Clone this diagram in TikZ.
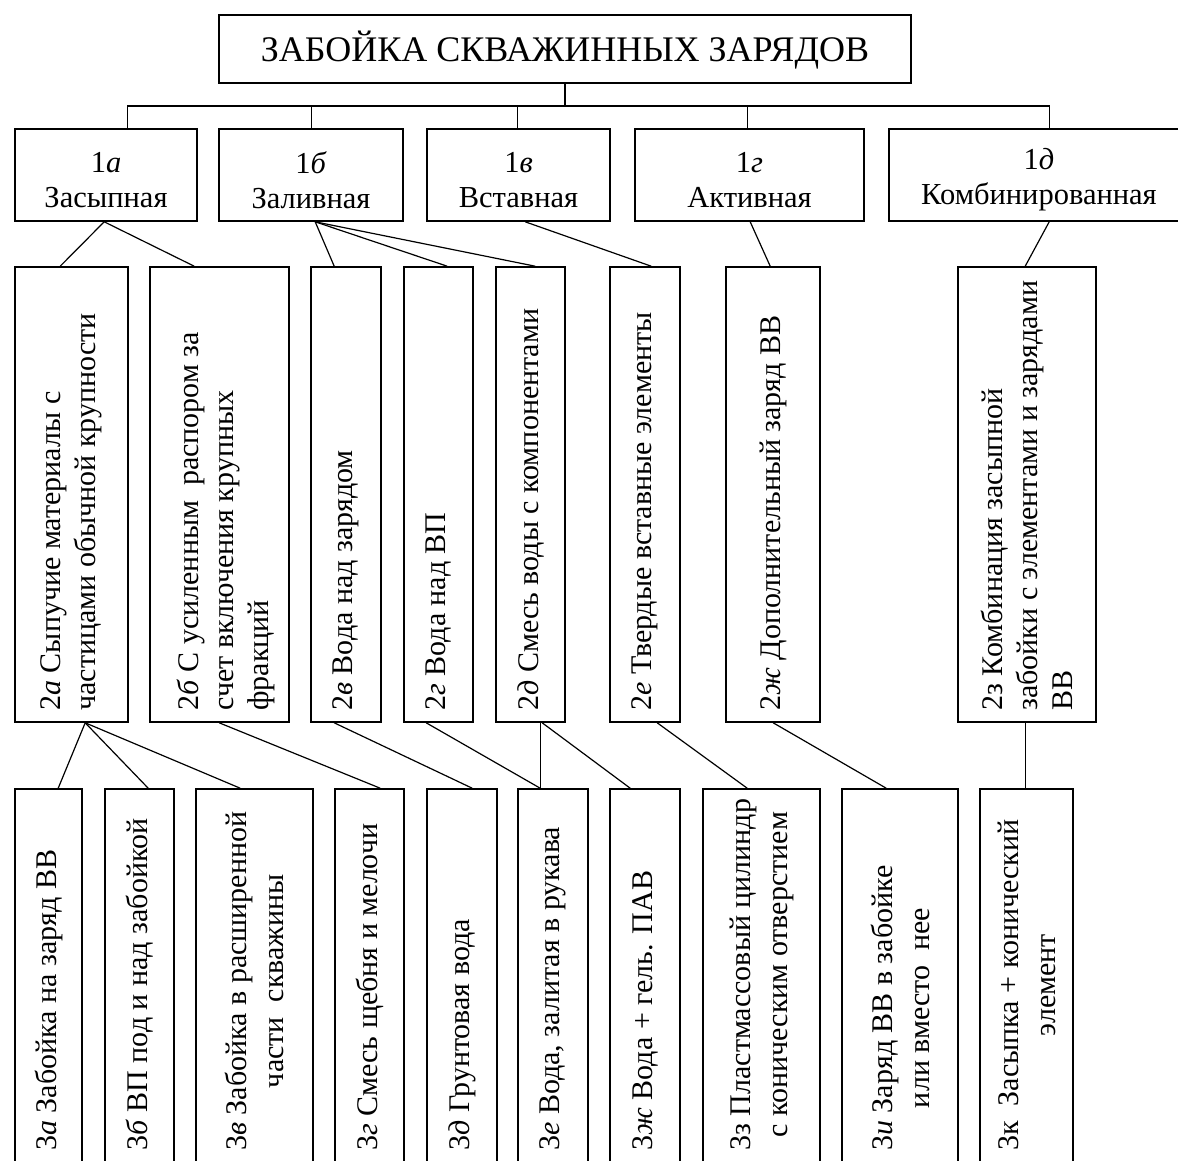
\documentclass[tikz,border=0pt]{standalone}
\usepackage{fontspec}
\setmainfont{Liberation Serif}
\begin{document}
\begin{tikzpicture}[x=1pt,y=-1pt,
  box/.style={draw, line width=1.6pt, inner sep=0pt},
  conn/.style={line width=1.2pt},
  ttl/.style={font=\fontsize{36}{42}\selectfont, inner sep=0pt},
  ht/.style={align=center, font=\fontsize{30.5}{35}\selectfont, inner sep=0pt},
  vt/.style={rotate=90, anchor=west, align=left, font=\fontsize{30}{35}\selectfont, inner sep=0pt},
  vtc/.style={rotate=90, anchor=west, align=center, font=\fontsize{30}{37}\selectfont, inner sep=0pt}]
\useasboundingbox (0,0) rectangle (1178,1160);
\newcommand\bx[5]{\node[box, minimum width={#4pt-#2pt}, minimum height={#5pt-#3pt}] (#1) at ({(#2+#4)/2},{(#3+#5)/2}) {};}
% top
\bx{T}{219}{15}{911}{83}
\node[ttl] (tT) at ([yshift=-1pt]T.center) {ЗАБОЙКА СКВАЖИННЫХ ЗАРЯДОВ};
% level 1
\bx{A}{15}{129}{197}{221}
\bx{B}{219}{129}{403}{221}
\bx{C}{427}{129}{610}{221}
\bx{D}{635}{129}{864}{221}
\bx{E}{889}{129}{1190}{221}
\node[ht] (tA) at ([yshift=-5pt]A.center) {1\textit{а}\\Засыпная};
\node[ht] (tB) at ([yshift=-5pt]B.center) {1\textit{б}\\Заливная};
\node[ht] (tC) at ([yshift=-5pt]C.center) {1\textit{в}\\Вставная};
\node[ht] (tD) at ([yshift=-5pt]D.center) {1\textit{г}\\Активная};
\node[ht] (tE) at (1039,180) {1\textit{д}\\Комбинированная};
% bus
\coordinate (bus) at (565,106);
\draw[conn] (T.south) -- (bus);
\draw[conn] ([xshift=113pt]A.north west) |- (bus) -| ([xshift=161pt]E.north west);
\draw[conn] ([xshift=93pt]B.north west) -- ++(0,-23);
\draw[conn] ([xshift=91pt]C.north west) -- ++(0,-23);
\draw[conn] ([xshift=113pt]D.north west) -- ++(0,-23);
% level 2
\bx{A1}{15}{267}{128}{722}
\bx{A2}{150}{267}{289}{722}
\bx{B1}{311}{267}{381}{722}
\bx{B2}{404}{267}{473}{722}
\bx{B3}{496}{267}{565}{722}
\bx{C1}{610}{267}{680}{722}
\bx{D1}{726}{267}{820}{722}
\bx{E1}{958}{267}{1096}{722}
\node[vt] (tA1) at ([yshift=12pt]A1.south) {2\textit{а} Сыпучие материалы с\\частицами обычной крупности};
\node[vt] (tA2) at ([xshift=6pt,yshift=12pt]A2.south) {2\textit{б} С усиленным\ \ распором за\\счет включения крупных\\фракций};
\node[vt] (tB1) at ([yshift=12pt]B1.south) {2\textit{в} Вода над зарядом};
\node[vt] (tB2) at ([yshift=12pt]B2.south) {2\textit{г} Вода над ВП};
\node[vt] (tB3) at ([yshift=12pt]B3.south) {2\textit{д} Смесь воды с компонентами};
\node[vt] (tC1) at ([yshift=12pt]C1.south) {2\textit{е} Твердые вставные элементы};
\node[vt] (tD1) at ([yshift=12pt]D1.south) {2\textit{ж} Дополнительный заряд ВВ};
\node[vt] (tE1) at ([yshift=12pt]E1.south) {2з Комбинация засыпной\\забойки с элементами и зарядами\\ВВ};
% level 1 -> level 2
\draw[conn] ([xshift=90pt]A.south west) -- ([xshift=46pt]A1.north west);
\draw[conn] ([xshift=90pt]A.south west) -- ([xshift=45pt]A2.north west);
\draw[conn] ([xshift=97pt]B.south west) -- ([xshift=24pt]B1.north west);
\draw[conn] ([xshift=97pt]B.south west) -- ([xshift=44pt]B2.north west);
\draw[conn] ([xshift=97pt]B.south west) -- ([xshift=40pt]B3.north west);
\draw[conn] ([xshift=99pt]C.south west) -- ([xshift=42pt]C1.north west);
\draw[conn] ([xshift=116pt]D.south west) -- ([xshift=45pt]D1.north west);
\draw[conn] ([xshift=161pt]E.south west) -- ([xshift=68pt]E1.north west);
% level 3
\bx{a1}{15}{789}{82}{1175}
\bx{a2}{105}{789}{174}{1175}
\bx{a3}{196}{789}{313}{1175}
\bx{b1}{335}{789}{404}{1175}
\bx{c1}{427}{789}{497}{1175}
\bx{d1}{518}{789}{588}{1175}
\bx{e1}{610}{789}{680}{1175}
\bx{f1}{703}{789}{820}{1175}
\bx{g1}{842}{789}{958}{1175}
\bx{h1}{980}{789}{1073}{1175}
\node[vtc] (ta1) at ([yshift=25pt]a1.south) {3\textit{а} Забойка на заряд ВВ};
\node[vtc] (ta2) at ([yshift=25pt]a2.south) {3\textit{б} ВП под и над забойкой};
\node[vtc] (ta3) at ([yshift=25pt]a3.south) {3\textit{в} Забойка в расширенной\\части\ \ скважины};
\node[vtc] (tb1) at ([yshift=25pt]b1.south) {3\textit{г} Смесь щебня и мелочи};
\node[vtc] (tc1) at ([yshift=25pt]c1.south) {3\textit{д} Грунтовая вода};
\node[vtc] (td1) at ([yshift=25pt]d1.south) {3\textit{е} Вода, залитая в рукава};
\node[vtc] (te1) at ([yshift=25pt]e1.south) {3\textit{ж} Вода + гель. ПАВ};
\node[vtc] (tf1) at ([yshift=25pt]f1.south) {3з Пластмассовый цилиндр\\с коническим отверстием};
\node[vtc] (tg1) at ([yshift=25pt]g1.south) {3\textit{и} Заряд ВВ в забойке\\или вместо\ \ нее};
\node[vtc] (th1) at ([yshift=25pt]h1.south) {3к\ \ Засыпка + конический\\элемент};
% level 2 -> level 3
\draw[conn] ([xshift=71pt]A1.south west) -- ([xshift=44pt]a1.north west);
\draw[conn] ([xshift=71pt]A1.south west) -- ([xshift=44pt]a2.north west);
\draw[conn] ([xshift=71pt]A1.south west) -- ([xshift=45pt]a3.north west);
\draw[conn] ([xshift=70pt]A2.south west) -- ([xshift=46pt]b1.north west);
\draw[conn] ([xshift=24pt]B1.south west) -- ([xshift=46pt]c1.north west);
\draw[conn] ([xshift=23pt]B2.south west) -- ([xshift=23pt]d1.north west);
\draw[conn] ([xshift=45pt]B3.south west) -- ([xshift=23pt]d1.north west);
\draw[conn] ([xshift=47pt]B3.south west) -- ([xshift=21pt]e1.north west);
\draw[conn] ([xshift=48pt]C1.south west) -- ([xshift=45pt]f1.north west);
\draw[conn] ([xshift=48pt]D1.south west) -- ([xshift=45pt]g1.north west);
\draw[conn] ([xshift=68pt]E1.south west) -- ([xshift=46pt]h1.north west);
\end{tikzpicture}
\end{document}
